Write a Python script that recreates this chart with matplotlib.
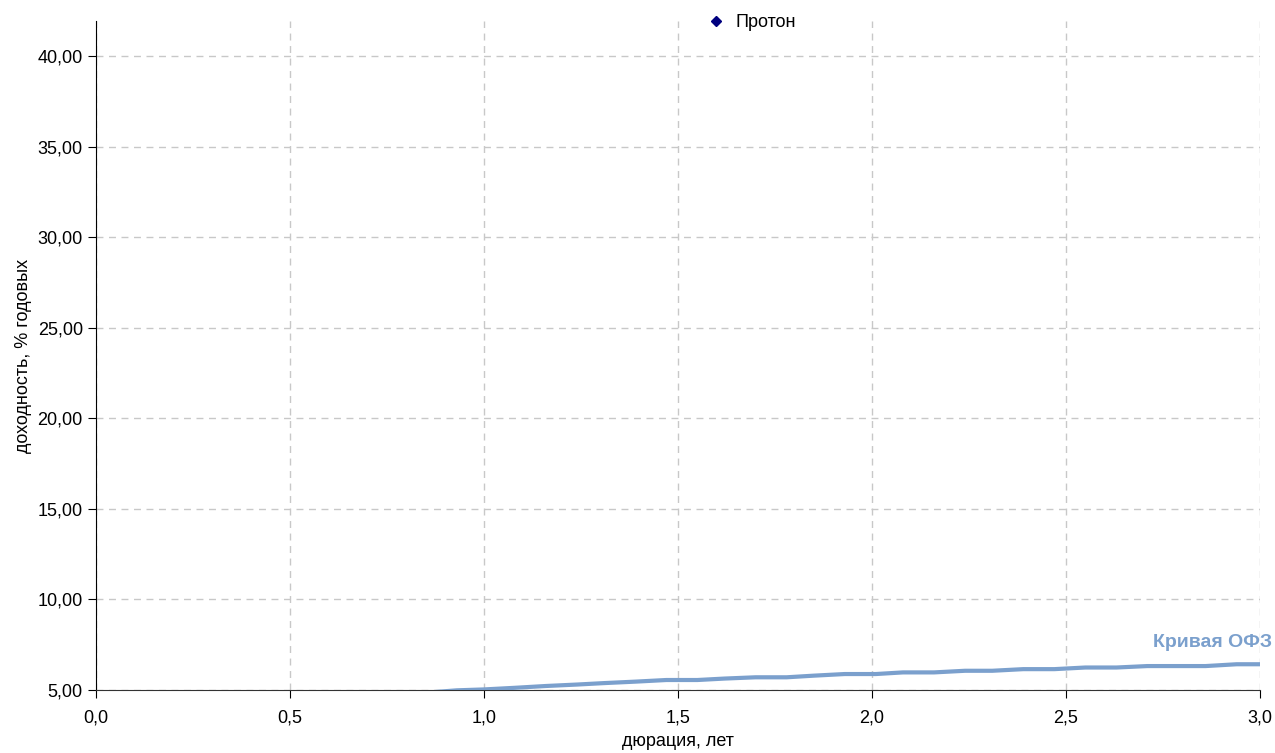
import matplotlib
matplotlib.use("Agg")
from matplotlib import pyplot as plt
from matplotlib.ticker import FuncFormatter, MultipleLocator

plt.rcParams['font.family'] = ['Liberation Sans Narrow', 'Liberation Sans', 'DejaVu Sans']

# OFZ curve (duration, yield)
ofz_duration = [0.85, 0.93, 1.00, 1.08, 1.16, 1.24, 1.31, 1.39, 1.47, 1.55, 1.62,
                 1.70, 1.78, 1.85, 1.93, 2.01, 2.08, 2.16, 2.24, 2.31, 2.39, 2.47,
                 2.55, 2.63, 2.71, 2.78, 2.86, 2.94, 3.00]
ofz_yield = [4.85, 4.98, 5.03, 5.12, 5.22, 5.30, 5.38, 5.46, 5.55, 5.55, 5.63,
             5.70, 5.70, 5.79, 5.88, 5.88, 5.97, 5.97, 6.06, 6.06, 6.15, 6.15,
             6.24, 6.24, 6.32, 6.32, 6.32, 6.42, 6.42]

# Proton bond point (out of visible range)
proton_duration = [3.6]
proton_yield = [45.0]

curve_color = '#7ba0cd'

fig = plt.figure(figsize=(12.75, 7.53), dpi=100)
ax = fig.add_axes([0.0753, 0.0837, 0.9129, 0.8884])

ax.plot(ofz_duration, ofz_yield, color=curve_color, lw=3, solid_capstyle='round', zorder=3)
ax.plot(proton_duration, proton_yield, ls='none', marker='D', ms=6, color='#00007f',
        label='Протон', clip_on=True)

ax.set_xlim(0, 3.0)
ax.set_ylim(5, 41.93)
ax.xaxis.set_major_locator(MultipleLocator(0.5))
ax.yaxis.set_major_locator(MultipleLocator(5))
ax.xaxis.set_major_formatter(FuncFormatter(lambda v, p: f"{v:.1f}".replace('.', ',')))
ax.yaxis.set_major_formatter(FuncFormatter(lambda v, p: f"{v:.2f}".replace('.', ',')))

ax.grid(True, color='#c8c8c8', ls=(0, (5, 4)), lw=1)
ax.set_axisbelow(True)
for s in ['top', 'right']:
    ax.spines[s].set_visible(False)
ax.spines['left'].set_color('black')
ax.spines['bottom'].set_color('#333333')
ax.tick_params(axis='both', direction='out', length=6, labelsize=13, colors='black')
ax.tick_params(axis='x', pad=8)

ax.set_xlabel('дюрация, лет', fontsize=13, labelpad=5)
ax.set_ylabel('доходность, % годовых', fontsize=13, labelpad=4)

ax.text(3.03, 7.6, 'Кривая ОФЗ', color=curve_color, fontsize=14, fontweight='bold',
        ha='right', va='center', clip_on=False)

fig.legend(loc='center', bbox_to_anchor=(0.586, 0.97), frameon=False, fontsize=13,
           handletextpad=0.1, markerscale=0.9)

fig.savefig('out.png', dpi=100)
